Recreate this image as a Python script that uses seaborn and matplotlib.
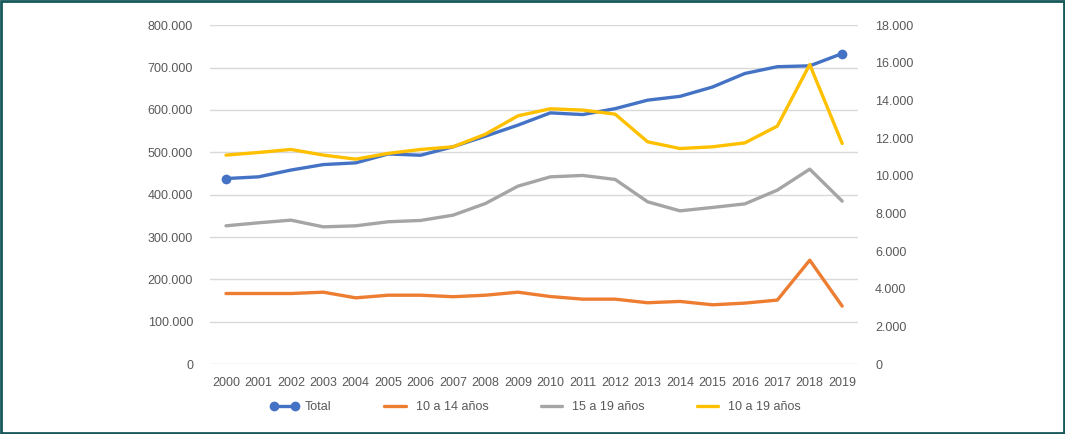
import pandas as pd
import seaborn as sns
import matplotlib.pyplot as plt
from matplotlib.ticker import FuncFormatter, MultipleLocator
from matplotlib.lines import Line2D
from matplotlib.patches import Rectangle

# datos
years = [str(y) for y in range(2000, 2020)]
total = [438000, 442000, 458000, 471000, 475000, 496000, 493000, 513000, 538000, 564000,
         593000, 589000, 603000, 623000, 632000, 654000, 686000, 702000, 704000, 733000]
edad_10_14 = [3750, 3750, 3750, 3820, 3520, 3660, 3660, 3580, 3660, 3820,
              3590, 3450, 3450, 3260, 3330, 3150, 3240, 3400, 5520, 3080]
edad_15_19 = [7345, 7505, 7646, 7290, 7345, 7560, 7630, 7910, 8530, 9450,
              9945, 10020, 9807, 8620, 8140, 8320, 8510, 9240, 10354, 8655]
edad_10_19 = [11100, 11240, 11400, 11100, 10885, 11190, 11400, 11540, 12210, 13185,
              13560, 13490, 13275, 11805, 11450, 11540, 11750, 12640, 15910, 11720]

series_labels = ["Total", "10 a 14 años", "15 a 19 años", "10 a 19 años"]
colors = ["#4472C4", "#ED7D31", "#A5A5A5", "#FFC000"]

sns.set_theme(style="white")
plt.rcParams["font.family"] = ["Liberation Sans", "DejaVu Sans"]

df_left = pd.DataFrame({"idx": range(len(years)), "value": total})
df_right = pd.DataFrame({
    "idx": list(range(len(years))) * 3,
    "value": edad_10_14 + edad_15_19 + edad_10_19,
    "serie": [series_labels[1]] * 20 + [series_labels[2]] * 20 + [series_labels[3]] * 20,
})

fig = plt.figure(figsize=(10.65, 4.34), dpi=100)
ax = fig.add_axes([0.197, 0.161, 0.609, 0.781])
ax2 = ax.twinx()

sns.lineplot(data=df_left, x="idx", y="value", ax=ax, color=colors[0], linewidth=2.4,
             marker="o", markersize=7, markevery=[0, len(years) - 1],
             markeredgewidth=0, legend=False)
sns.lineplot(data=df_right, x="idx", y="value", hue="serie", ax=ax2,
             palette=dict(zip(series_labels[1:], colors[1:])), linewidth=2.4, legend=False)

fmt = FuncFormatter(lambda v, p: f"{int(v):,}".replace(",", "."))
ax.set_ylim(0, 800000)
ax.yaxis.set_major_locator(MultipleLocator(100000))
ax.yaxis.set_major_formatter(fmt)
ax2.set_ylim(0, 18000)
ax2.yaxis.set_major_locator(MultipleLocator(2000))
ax2.yaxis.set_major_formatter(fmt)

ax.set_xlim(-0.5, len(years) - 0.5)
ax.set_xticks(range(len(years)))
ax.set_xticklabels(years)

ax.grid(axis="y", color="#D9D9D9", linewidth=1)
ax2.grid(False)
for a in (ax, ax2):
    for s in a.spines.values():
        s.set_visible(False)
    a.set_xlabel("")
    a.set_ylabel("")
    a.tick_params(length=0, labelsize=9, colors="#595959")
ax.tick_params(axis="y", pad=12)
ax.tick_params(axis="x", pad=9)
ax2.tick_params(axis="y", pad=12)

handles = [Line2D([], [], color=c, linewidth=2.4) for c in colors]
handles[0] = Line2D([], [], color=colors[0], linewidth=2.4, marker="o", markersize=7,
                    markeredgewidth=0)
fig.legend(handles, series_labels, loc="center", bbox_to_anchor=(0.503, 0.062), ncol=4,
           frameon=False, fontsize=9, labelcolor="#595959", numpoints=2,
           handlelength=2.3, columnspacing=3.9, handletextpad=0.5)

fig.add_artist(Rectangle((0.001, 0.002), 0.998, 0.996, transform=fig.transFigure,
                         fill=False, edgecolor="#17575A", linewidth=2))

fig.savefig("out.png", dpi=100)
plt.close(fig)
